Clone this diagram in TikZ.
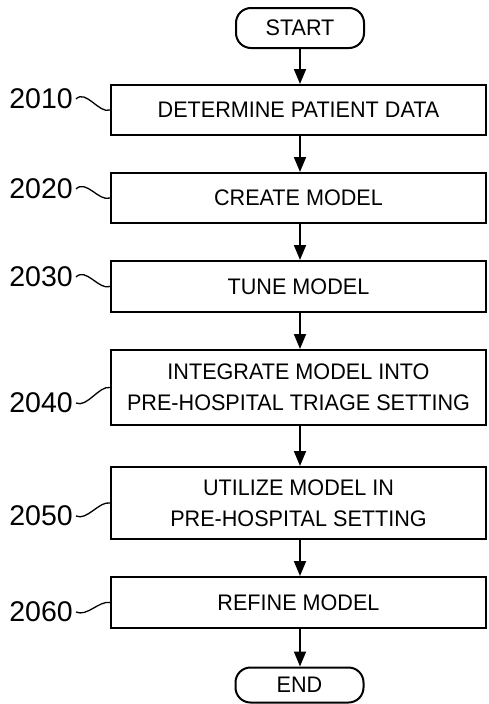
\documentclass[tikz,border=0pt]{standalone}
\usepackage{fontspec}
\setmainfont{Liberation Sans}
\newfontfamily\boxfont{Liberation Sans}[FakeStretch=0.96]
\usetikzlibrary{arrows.meta}
\begin{document}
\begin{tikzpicture}[x=1pt,y=-1pt,
  stepbox/.style={draw,line width=2pt,minimum width=375pt,inner sep=0pt,align=center,font=\boxfont\fontsize{22.5}{31}\selectfont},
  term/.style={draw,line width=2pt,rounded corners=15pt,minimum width=128pt,inner sep=0pt,font=\boxfont\fontsize{22.5}{25}\selectfont},
  lbl/.style={anchor=east,inner sep=0pt,font=\fontsize{28.5}{30}\selectfont},
  flow/.style={line width=1.8pt,-{Triangle[length=15pt,width=12pt]}},
  sq/.style={line width=1.3pt}]
\useasboundingbox (0,0) rectangle (488,704);
\node[term,minimum height=40pt] (start) at (300,28) {START};
\node[stepbox,minimum height=50pt] (b1) at (298.5,110) {DETERMINE PATIENT DATA};
\node[stepbox,minimum height=50pt] (b2) at (298.5,198) {CREATE MODEL};
\node[stepbox,minimum height=51pt] (b3) at (298.5,286.5) {TUNE MODEL};
\node[stepbox,minimum height=75pt] (b4) at (298.5,387.5) {INTEGRATE MODEL INTO\\PRE-HOSPITAL TRIAGE SETTING};
\node[stepbox,minimum height=72pt] (b5) at (298.5,503) {UTILIZE MODEL IN\\PRE-HOSPITAL SETTING};
\node[stepbox,minimum height=51pt] (b6) at (298.5,602.5) {REFINE MODEL};
\node[term,minimum height=35pt] (end) at (299.5,685) {END};
\foreach \a/\b in {start/b1,b1/b2,b2/b3,b3/b4,b4/b5,b5/b6,b6/end}
  \draw[flow] (\a.south -| 300,0) -- (\b.north -| 300,0);
\node[lbl] (l1) at (73,99) {2010};
\node[lbl] (l2) at (73,189) {2020};
\node[lbl] (l3) at (73,277) {2030};
\node[lbl] (l4) at (73,403) {2040};
\node[lbl] (l5) at (73,516) {2050};
\node[lbl] (l6) at (73,612) {2060};
\draw[sq] (l1.east) ++(3,0) .. controls +(10,-10) and +(-11,4) .. (b1.west);
\draw[sq] (l2.east) ++(3,0) .. controls +(10,-10) and +(-11,4) .. (b2.west);
\draw[sq] (l3.east) ++(3,0) .. controls +(10,-10) and +(-11,4) .. (b3.west);
\draw[sq] (l4.east) ++(3,0) .. controls +(11,5) and +(-11,-2) .. (b4.west);
\draw[sq] (l5.east) ++(3,0) .. controls +(11,5) and +(-11,-2) .. (b5.west);
\draw[sq] (l6.east) ++(3,0) .. controls +(11,5) and +(-11,-2) .. (b6.west);
\end{tikzpicture}
\end{document}
